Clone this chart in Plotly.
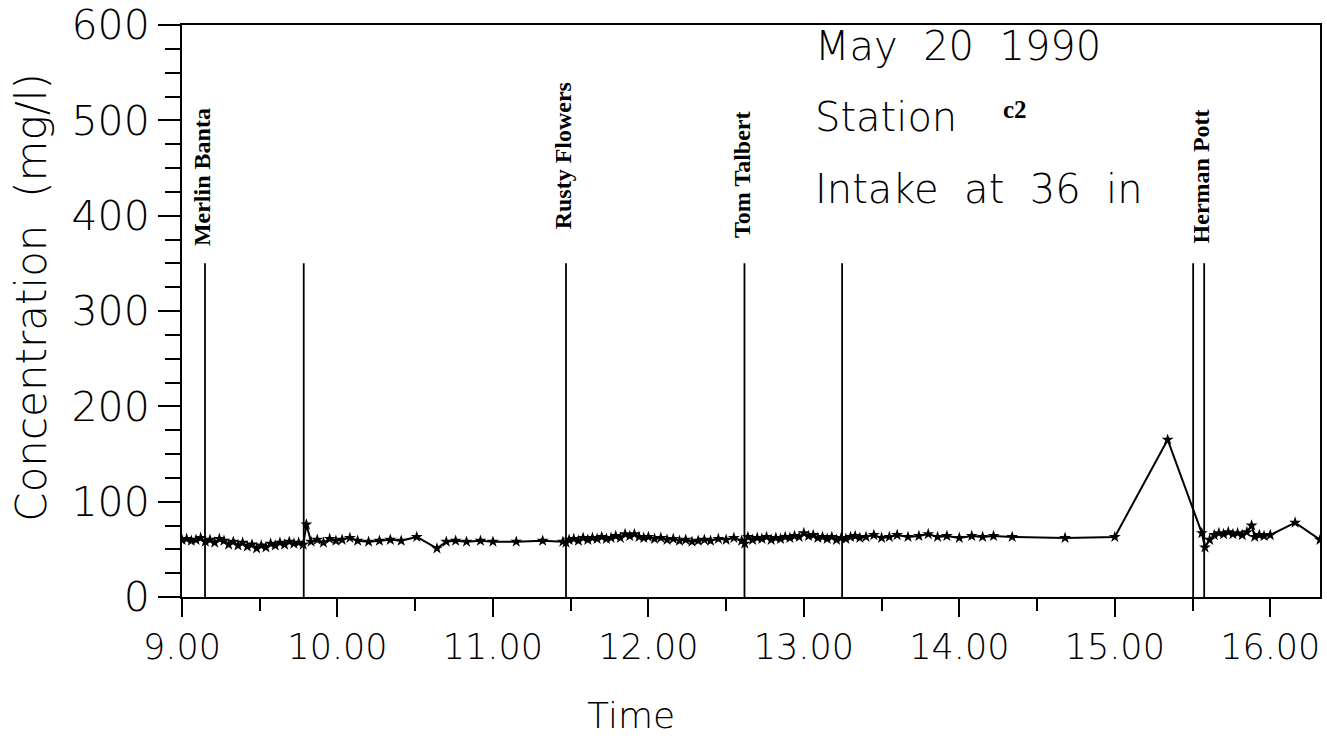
import plotly.graph_objects as go

# ---- data ----
time_h = [
    9.00, 9.03, 9.06, 9.09, 9.12, 9.15, 9.18, 9.21, 9.24, 9.27, 9.30, 9.33, 9.36, 9.39,
    9.42, 9.45, 9.48, 9.51, 9.54, 9.57, 9.60, 9.63, 9.66, 9.69, 9.72, 9.75, 9.78, 9.80,
    9.83, 9.87, 9.91, 9.95, 9.99, 10.03, 10.08, 10.13, 10.20, 10.27, 10.34, 10.41, 10.51,
    10.64, 10.70, 10.76, 10.83, 10.92, 11.00, 11.15, 11.32, 11.45, 11.47,
    11.49, 11.52, 11.55, 11.58, 11.61, 11.64, 11.67, 11.70, 11.73, 11.76, 11.79, 11.82,
    11.85, 11.88, 11.91, 11.94, 11.97, 12.00, 12.04, 12.08, 12.12, 12.16, 12.20, 12.24,
    12.28, 12.32, 12.36, 12.40, 12.45, 12.50, 12.55, 12.60, 12.62, 12.64, 12.67,
    12.70, 12.73, 12.76, 12.79, 12.82, 12.85, 12.88, 12.91, 12.94, 12.97, 13.00, 13.03,
    13.06, 13.09, 13.12, 13.15, 13.18, 13.21, 13.24, 13.27, 13.30, 13.33, 13.36, 13.40,
    13.45, 13.50, 13.55, 13.60, 13.67, 13.74, 13.80, 13.86, 13.92, 14.00, 14.08, 14.15,
    14.22, 14.34, 14.68, 15.00, 15.34, 15.56, 15.58, 15.61, 15.64, 15.67, 15.70, 15.73,
    15.76, 15.79, 15.82, 15.85, 15.88, 15.90, 15.93, 15.96, 16.00, 16.16, 16.32,
]
conc_mg_l = [
    60, 61, 59, 60, 62, 58, 60, 57, 61, 59, 55, 58, 54, 57,
    53, 55, 51, 54, 52, 56, 54, 57, 55, 58, 56, 57, 55, 76,
    58, 60, 57, 61, 59, 60, 62, 59, 58, 59, 60, 59, 63,
    51, 58, 59, 58, 59, 58, 58, 59, 58, 57,
    60, 61, 59, 62, 60, 62, 61, 63, 61, 62, 64, 62,
    66, 64, 66, 63, 62, 63, 61, 62, 60, 61, 59, 60,
    58, 59, 60, 59, 61, 60, 62, 59, 56, 63, 60,
    62, 61, 63, 60, 62, 61, 63, 62, 64, 63, 67, 64,
    65, 62, 63, 61, 63, 60, 62, 61, 63, 64, 62, 63,
    65, 62, 63, 65, 63, 64, 66, 63, 64, 62, 64, 63,
    64, 63, 62, 63, 165, 67, 52, 60, 65, 67, 66, 68,
    66, 67, 65, 68, 75, 63, 65, 64, 65, 78, 60,
]

event_times = [9.148, 9.783, 11.47, 12.618, 13.246, 15.504, 15.575]
event_top = 350
label_times = [9.148, 11.47, 12.618, 15.575]
label_names = ["Merlin Banta", "Rusty Flowers", "Tom Talbert", "Herman Pott"]

x_ticks = [9, 10, 11, 12, 13, 14, 15, 16]
y_ticks = [0, 100, 200, 300, 400, 500, 600]

# ---- styling / placement ----
label_base = [366, 383, 375, 369]
SANS = "DejaVu Sans"
SERIF = "Liberation Serif"
W = 200

fig = go.Figure()

# vertical event lines
vx, vy = [], []
for t in event_times:
    vx += [t, t, None]
    vy += [0, event_top, None]
fig.add_trace(go.Scatter(x=vx, y=vy, mode="lines",
                         line=dict(color="black", width=1.8),
                         hoverinfo="skip", showlegend=False))

# concentration series
fig.add_trace(go.Scatter(x=time_h, y=conc_mg_l, mode="lines+markers",
                         line=dict(color="black", width=2),
                         marker=dict(symbol="star", size=9, color="black"),
                         showlegend=False))

annotations = []
for t, name, yb in zip(label_times, label_names, label_base):
    annotations.append(dict(x=t, y=yb, xref="x", yref="y", text="<b>" + name + "</b>",
                            textangle=-90, showarrow=False, xanchor="center",
                            yanchor="bottom", xshift=-3,
                            font=dict(family=SERIF, size=24, color="black")))

annotations += [
    dict(x=13.06, y=578, xref="x", yref="y", text="May  20  1990", showarrow=False,
         xanchor="left", yanchor="middle", font=dict(family=SANS, size=40, color="black", weight=W)),
    dict(x=13.06, y=503, xref="x", yref="y", text="Station", showarrow=False,
         xanchor="left", yanchor="middle", font=dict(family=SANS, size=40, color="black", weight=W)),
    dict(x=14.27, y=511, xref="x", yref="y", text="<b>c2</b>", showarrow=False,
         xanchor="left", yanchor="middle", font=dict(family=SERIF, size=25, color="black")),
    dict(x=13.06, y=428, xref="x", yref="y", text="Intake  at  36  in", showarrow=False,
         xanchor="left", yanchor="middle", font=dict(family=SANS, size=40, color="black", weight=W)),
    # axis titles
    dict(x=0, y=314, xref="paper", yref="y", text="Concentration  (mg/l)", showarrow=False,
         textangle=-90, xanchor="center", yanchor="middle", xshift=-150,
         font=dict(family=SANS, size=42, color="black", weight=W)),
    dict(x=11.89, y=0, xref="x", yref="paper", text="Time", showarrow=False,
         xanchor="center", yanchor="middle", yshift=-118,
         font=dict(family=SANS, size=36, color="black", weight=W)),
]

fig.update_layout(
    width=1327, height=740,
    margin=dict(l=182, r=7, t=25, b=143),
    paper_bgcolor="white", plot_bgcolor="white",
    annotations=annotations,
    font=dict(family=SANS, color="black"),
)

fig.update_xaxes(
    range=[9, 16.32], tickvals=x_ticks, ticktext=[f"{v:.2f}" for v in x_ticks],
    ticks="outside", ticklen=18, tickwidth=1.5, tickcolor="black",
    minor=dict(dtick=0.5, tick0=9, ticks="outside", ticklen=12, tickwidth=1.5, tickcolor="black"),
    showline=True, linecolor="black", linewidth=2, mirror=True,
    showgrid=False, zeroline=False, automargin=False, ticklabeloverflow="allow",
    tickfont=dict(family=SANS, size=35, color="black", weight=W),
)
fig.update_yaxes(
    range=[0, 600], tickvals=y_ticks,
    ticks="outside", ticklen=22, tickwidth=1.5, tickcolor="black",
    minor=dict(dtick=25, tick0=0, ticks="outside", ticklen=15, tickwidth=1.5, tickcolor="black"),
    showline=True, linecolor="black", linewidth=2, mirror=True,
    showgrid=False, zeroline=False, automargin=False, ticklabeloverflow="allow",
    tickfont=dict(family=SANS, size=41, color="black", weight=W),
)

fig.write_html("out.html", config={"displayModeBar": False},
               post_script="document.body.style.margin='0';")
